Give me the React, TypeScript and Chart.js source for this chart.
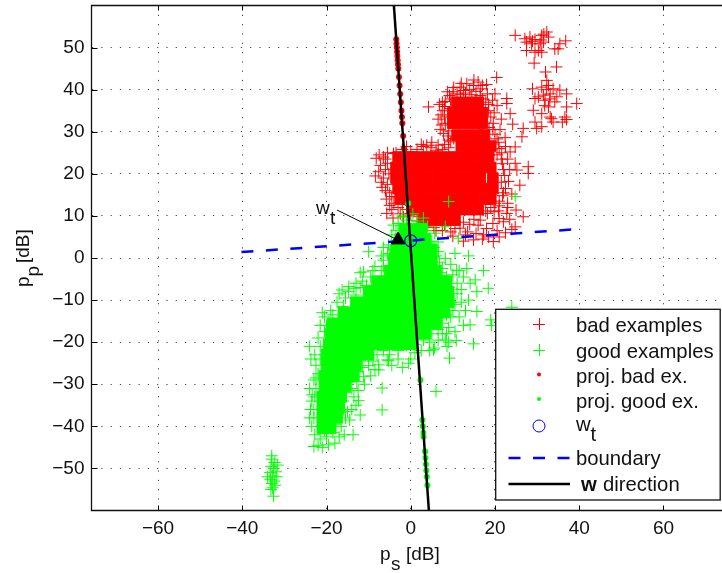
import React, { useEffect, useRef } from "react";
import { Chart, registerables } from "chart.js";

Chart.register(...registerables);

const FONT = '"Liberation Sans", Arial, sans-serif';

// Dense cores, read as rows: [y, x values]
const badCoreRows: [number, number[]][] = [
  [37, [11, 13.5, 16]],
  [34.5, [10, 12.5, 15, 17]],
  [32, [10, 12.5, 15, 17]],
  [29.2, [11, 13.5, 16, 17.5]],
  [26.6, [12, 14.5, 17, 19]],
  [24, [-3, -0.5, 2, 4.5, 7, 9.5, 12, 14.5, 17, 18.5]],
  [21.5, [-3.5, -1, 1.5, 4, 6.5, 9, 11.5, 14, 16.5, 19]],
  [19, [-3.5, -1, 1.5, 4, 6.5, 9, 11.5, 14, 16.5, 19.5]],
  [16.5, [-3, -0.5, 2, 4.5, 7, 9.5, 12, 14.5, 17, 19.5]],
  [14, [-2.5, 0, 2.5, 5, 7.5, 10, 12.5, 15, 17.5, 19]],
  [11.5, [1, 3.5, 6, 8.5, 11, 13.5, 16]],
  [9, [3, 5.5, 8, 10.5]],
];

const goodCoreRows: [number, number[]][] = [
  [7, [-1.5, 1, 2.5]],
  [4.5, [-2.5, 0, 2, 3.5]],
  [2, [-3.5, -1, 1.5, 4, 5]],
  [-0.5, [-4, -1.5, 1, 3.5, 5]],
  [-3, [-5, -2.5, 0, 2.5, 5, 6]],
  [-5.5, [-8, -5.5, -3, -0.5, 2, 4.5, 7, 8.5]],
  [-8, [-10, -7.5, -5, -2.5, 0, 2.5, 5, 7.5, 9]],
  [-10.5, [-13, -10.5, -8, -5.5, -3, -0.5, 2, 4.5, 7, 9]],
  [-13, [-16, -13.5, -11, -8.5, -6, -3.5, -1, 1.5, 4, 6.5, 8]],
  [-15.5, [-18.5, -16, -13.5, -11, -8.5, -6, -3.5, -1, 1.5, 4, 6]],
  [-18, [-19, -16.5, -14, -11.5, -9, -6.5, -4, -1.5, 1, 3.5]],
  [-20.5, [-19.5, -17, -14.5, -12, -9.5, -7, -4.5, -2, 0]],
  [-23, [-20, -17.5, -15, -12.5, -10]],
  [-25.5, [-20, -17.5, -15, -13]],
  [-28, [-20.5, -18, -15.5, -13.5]],
  [-30.5, [-20.5, -18, -15.5]],
  [-33, [-21, -18.5, -16.5]],
  [-35.5, [-21, -18.5, -17]],
  [-38, [-21, -19, -17.5]],
  [-40.5, [-21, -19]],
];

const badExamples: [number, number][] = [
  [24.8, 52.9], [27.1, 52.1], [28.3, 52.5], [29.5, 51.9], [27.5, 51.3], [28.7, 50.9], [31.1, 52.9], [32.3, 53.7],
  [32.7, 52.5], [31.5, 51.3], [30.7, 50.9], [30.3, 49.3], [31.1, 48.9], [29.5, 48.9], [27.5, 49.3], [35, 49.7],
  [35.4, 50.9], [36.8, 51.6], [34.2, 49.7], [29.3, 46.3], [34.6, 45.4], [31.6, 53.2], [30.9, 51.8], [28.9, 51.5],
  [32, 44.2], [32.3, 42.2], [32.7, 41], [28.9, 40.2], [31.1, 40.6], [33.8, 40.2], [35.4, 39.9], [30.3, 38.3],
  [31.5, 38.7], [33.1, 39], [34.7, 38.3], [37, 39], [39.4, 36.7], [29.5, 37.9], [31.9, 37.5], [34.2, 37.1],
  [32.7, 35.9], [37, 35.9], [29.1, 35.1], [31.1, 34.3], [33.1, 33.5], [36.6, 33.5], [29.5, 32.3], [33.8, 32.3],
  [37, 32.9], [31.1, 31.2], [29.9, 30.8], [36, 32.3], [33.4, 33.1], [32.2, 40], [33, 37.8], [31.8, 36.2],
  [4.2, 35.9], [6.8, 36.5], [20.4, 42.9], [18, 41.2], [20, 39], [22.8, 37.9], [22.8, 36.7], [23.6, 34.3],
  [24.2, 31.8], [26.7, 30.8], [26.4, 28.8], [24.8, 26.4], [23.6, 25.2], [24.8, 22.5], [27.9, 21.7], [8.7, 39.5],
  [11.7, 40.6], [14.9, 41], [13.3, 41.4], [10.2, 40.5], [7.4, 31.6], [7.8, 29.6], [9, 30.2], [8, 33.5],
  [7.6, 35], [8.2, 37.2], [9.2, 38.6], [12.5, 39.8], [16.5, 40.2], [18.2, 39], [19.4, 37.5], [20.5, 36.2],
  [19.8, 34.5], [21.5, 33], [19.6, 32], [21.2, 30.5], [20, 29.4], [22.4, 28.6], [20.8, 27.5], [22.5, 26.5],
  [21.6, 25], [23, 23.5], [21.8, 22.4], [23.5, 21], [22.3, 19.6], [25.2, 20.9], [27.9, 20.1], [25.9, 17.3],
  [23.2, 18.2], [22.5, 16.5], [24, 15.2], [21.8, 14.8], [23, 13], [21, 12.4], [19.8, 11], [18.2, 10.6],
  [26.7, 9.8], [22.8, 10.6], [24.8, 7.4], [22, 8.6], [23.5, 9.2], [25, 11.4], [21, 9.4], [19.6, 3.9],
  [17.3, 5.5], [14.9, 4.3], [11.7, 7.1], [16, 7.8], [13.5, 6.2], [18, 7], [19.5, 8.2], [15, 9.2],
  [12.5, 8.5], [9.5, 6.2], [7.5, 6.5], [5.5, 7.2], [3.2, 7.6], [1.5, 8.8], [-0.5, 10], [-1.7, 9.8],
  [-8.2, 23.7], [-8.4, 19.5], [-7.2, 22], [-7.6, 20.5], [-4.1, 24.8], [-5.7, 10.6], [-4.5, 14.6], [-6.5, 24],
  [-5.5, 22.5], [-6, 21], [-6.5, 19], [-5.5, 17.5], [-6, 16], [-5, 15.5], [-4, 13], [-5, 12.5],
  [-3, 12], [-2.5, 10.5], [-1, 11.5], [-3.5, 25], [-2, 25.8], [0, 25.2], [1.5, 25.8], [3, 26.5],
  [3.8, 26.8], [4.8, 26.2], [6, 25.6], [7.5, 25.8], [9, 26.2], [9.5, 27.6], [10.2, 28.4], [6.5, 24.8],
  [14.5, 38.8], [11, 39], [17, 37.8], [16.5, 38.6], [9.5, 35.5], [18.5, 35], [18.6, 31], [17.8, 28.5],
  [7.5, 37], [8, 36], [7.2, 34], [8.2, 32], [7, 30.5], [8.8, 29], [6.5, 33], [9, 28], [10, 39.5], [11.8, 38.8],
  [13, 39.2], [15.5, 39.6], [17.8, 37], [18.5, 36.5], [9.5, 37.8], [12, 41.5], [16, 41.8], [14, 40], [17, 41], [15, 42.3],
  [19, 33.5], [19.5, 30.5], [20.5, 28.3], [21, 26], [20.5, 24.5], [21.5, 23.5], [22, 21], [21.5, 18], [22, 15.5], [21, 13.5],
  [20, 13], [19, 12], [17.8, 11.2], [20.8, 11.2], [16.5, 9], [14, 8], [10.5, 7], [8, 8], [6, 6.5], [4, 8.5],
  [2, 9.8], [0, 10.5], [13, 5.5], [18.5, 5], [15.5, 5.8], [20.5, 6.5], [17, 4.5], [10, 5.2], [12.5, 4], [22.5, 6],
  [24, 6.8], [21, 5], [23, 12], [-5.5, 25], [-6, 23.5], [-5.2, 20], [-7, 18], [-5.8, 14], [-4.5, 11.5], [-3.2, 14.5],
  [-2, 13], [0, 12.5], [-7.5, 24.5], [-6.8, 16.8], [-4.2, 9.5], [5, 27.5], [2.5, 27], [6.5, 26.8], [8, 27], [-1, 26.5],
];

const goodExamples: [number, number][] = [
  [9, 13.4], [24.8, 14.6], [-1.9, 9.8], [8.2, 7.4], [5.7, 5.9], [11.3, 4.7], [-4.1, 7.8], [-5.3, 3.1], [3, 4.3],
  [-3, 8.2], [-1, 9], [1.5, 8.8], [3.5, 6.5], [5, 4], [-4.5, 5.5], [6.6, 1.5], [8.2, -0.1], [-6.5, 2.5], [6.5, 3.8],
  [-10, 1.5], [-11.2, -3.3], [-14.7, -6.8], [-13.5, -7.2], [-16.3, -7.6], [13.7, 0.5], [10.5, 1.1], [17.3, -3],
  [15.3, -5.2], [18.4, -7.2], [15.7, -8], [10.9, -2.9], [13.3, -2.5], [14.1, -6], [13.7, -10], [15.7, -12.7],
  [14.1, -15.9], [19, -14.7], [19.2, -16], [24, -11.7], [14.9, -20.4], [10.8, -19.6], [8.2, -19.5], [5.6, -21.4],
  [9.2, -23.8], [8.6, -21], [-0.5, -25], [-5.6, -24.2], [-7.6, -25.4], [-23.7, -24], [-23.4, -32.5], [-12.4, -33.9],
  [-12, -37.3], [-6.8, -30.9], [-6.8, -36.1], [-13.7, -42], [-19.5, -44.4], [-23, -44.8], [-7.6, -26.6], [-5.3, -24.4],
  [5.4, -21.8], [6, -31.7], [-12.8, -29.4], [-11.2, -28.2], [-7, -3], [-8.5, -2], [-6.5, -0.5], [-9.5, -4.5],
  [-11.5, -5.5], [-13, -8.8], [-15.5, -9.5], [-17.5, -10.5], [-16, -11.5], [-19, -12.5], [-20.5, -14], [-18.5, -13.5],
  [-21.5, -16], [-20.5, -17.5], [-22, -19], [-21.5, -21], [-22.8, -23], [-22.5, -25.5], [-22, -27.5], [-23, -29],
  [-22.5, -31], [-23.5, -34], [-23.8, -36], [-23, -38], [-23.5, -40], [-22.8, -42], [-21.5, -43], [-20, -42.5],
  [-18.5, -41.5], [-18, -39.5], [-17.5, -37.8], [-17, -35.5], [-16, -34], [-15, -36.5], [-14.5, -38.5], [-16.5, -40],
  [-17, -42.5], [-15.5, -32], [-14, -31], [-13.5, -33], [-14.8, -29.5], [-12.8, -27], [-11.5, -26], [-10, -25.5],
  [-9, -24.5], [-8, -23], [-6.5, -22], [-5, -23], [-3, -22], [-1, -20.8], [1, -20.5], [3, -19.5], [4.5, -20], [2.5, -22],
  [5, -18], [6.5, -17], [7.5, -15.5], [9, -16.5], [8.5, -13.5], [10, -12.5], [11.5, -14], [9.5, -10.5], [12, -10.5],
  [11, -8.5], [9, -7], [11, -6], [8.5, -4.5], [12.5, -4.5], [9.5, -1.5], [7.5, -2.5], [7, -6.5], [10.5, -17.5],
  [6, 0.5], [-7, 0.5], [-5.5, 1], [-18.5, -19.5], [-15.5, -24.5], [-12, -24.5],
  [3, 9.5], [-2, 10], [0.5, 10.5], [-3.5, 6.5], [4, 7.5], [-5, 1], [5.5, 2.5], [6.8, -1], [7, -3.5], [-6.5, -2],
  [-9, -3], [-10.5, -6.5], [-13, -6], [-12, -3.5], [8, -8.5], [9, -9], [8.5, -11.5], [10.5, -11], [9.5, -14], [7.5, -18],
  [8.5, -18], [6.5, -19.5], [6, -15], [4.5, -22], [1, -22.5], [0, -24], [-3, -24], [-2, -26], [7.5, -12], [10, -4],
  [11.5, -3], [12, -7.5], [13, -12.5], [12.5, -16], [9, -20], [-4.5, -25.5], [-8.5, -26.5], [-9.5, -28], [-11, -30], [-12.5, -31.5],
  [-13, -35], [-14, -36], [-15.5, -38], [-16, -36], [-17, -33], [-16, -30.5], [-14.5, -27], [-15.8, -42], [-18, -44], [-21, -45],
  [-22, -44.5], [-20.5, -41], [-24, -31], [-22.8, -33], [-24, -38], [-23, -36], [-22.5, -28.5], [-21.5, -24], [-24, -21], [-20, -16],
  [-21, -13], [-17, -8.5], [-14.8, -8], [-12, -7], [-9, -6.5],
  [-33, -47.8], [-32.3, -48.6], [-33.2, -49.5], [-32.6, -50], [-32, -50.8], [-33.4, -51], [-32.8, -51.8], [-31.8, -52],
  [-33.3, -52.6], [-32.4, -53], [-33, -53.6], [-32.2, -54], [-32.8, -54.6], [-33.2, -55], [-32.6, -56.6], [-33, -47], [-31.6, -49.2], [-34, -52],
];

const projBad: [number, number][] = [
  [-3.45, 52], [-3.38, 51], [-3.31, 50], [-3.24, 49], [-3.17, 48], [-3.1, 47], [-3.03, 46], [-2.96, 45], [-2.8, 43],
  [-2.65, 41], [-2.5, 39], [-2.35, 37], [-2.2, 35], [-2.1, 33.5], [-2, 32], [-1.8, 29], [-1.6, 26], [-1.3, 22], [-1, 18], [-0.6, 13],
];
const projGood: [number, number][] = [
  [-0.6, 13], [1.5, -17], [2.3, -29], [2.75, -38.5], [2.85, -40], [3, -41.5], [3.05, -42.5], [3.4, -46], [3.5, -47.5], [3.6, -49], [3.7, -50.5], [3.8, -52], [3.95, -54],
];
const wT: [number, number][] = [[0, 4.1]];
const boundaryLine: [number, number][] = [[-40.2, 1.4], [38.7, 6.8]];
const directionLine: [number, number][] = [[-4, 60], [4.3, -60]];
const arrowShaft: [number, number][] = [[-17.5, 11.4], [-2.5, 4]];
const arrowHead: [number, number][] = [[-3, 4.3]];
const labelWtAt: [number, number] = [-22.5, 10.5];

const xTickValues = [-60, -40, -20, 0, 20, 40, 60];
const yTickValues = [-50, -40, -30, -20, -10, 0, 10, 20, 30, 40, 50];

const legendLabels = ["bad examples", "good examples", "proj. bad ex.", "proj. good ex.", "w", "boundary", "direction"];

const toPts = (a: [number, number][]) => a.map(([x, y]) => ({ x, y }));
const rowsToPts = (rows: [number, number[]][]) => rows.flatMap(([y, xs]) => xs.map((x) => ({ x, y })));
const fmt = (v: number) => String(v).replace("-", "\u2212");

const decor = {
  id: "decor",
  afterDatasetsDraw(chart: any) {
    const { ctx, chartArea: a, scales } = chart;
    const sx = scales.x, sy = scales.y;
    ctx.save();
    ctx.strokeStyle = "#000";
    ctx.lineWidth = 1;
    ctx.beginPath();
    xTickValues.forEach((t) => {
      const p = Math.round(sx.getPixelForValue(t)) + 0.5;
      ctx.moveTo(p, a.top); ctx.lineTo(p, a.top + 5);
      ctx.moveTo(p, a.bottom); ctx.lineTo(p, a.bottom - 5);
    });
    yTickValues.forEach((t) => {
      const p = Math.round(sy.getPixelForValue(t)) + 0.5;
      ctx.moveTo(a.left, p); ctx.lineTo(a.left + 6, p);
    });
    ctx.stroke();
    ctx.lineWidth = 1.3;
    ctx.strokeStyle = "#111";
    ctx.beginPath();
    ctx.moveTo(a.right + 2, a.top); ctx.lineTo(a.left, a.top); ctx.lineTo(a.left, a.bottom); ctx.lineTo(a.right + 2, a.bottom);
    ctx.stroke();

    // annotation and axis titles
    ctx.fillStyle = "#111";
    ctx.textBaseline = "alphabetic";
    ctx.textAlign = "left";
    ctx.font = `19px ${FONT}`;
    const wx = sx.getPixelForValue(labelWtAt[0]), wy = sy.getPixelForValue(labelWtAt[1]);
    ctx.fillText("w", wx, wy);
    ctx.fillText("t", wx + 14, wy + 10);

    ctx.fillText("p", 380, 560);
    ctx.fillText("s", 391, 570);
    ctx.fillText("[dB]", 406, 560);
    ctx.save();
    ctx.translate(29, 287);
    ctx.rotate(-Math.PI / 2);
    ctx.fillText("p", 0, 0);
    ctx.fillText("p", 10.5, 9.5);
    ctx.fillText("[dB]", 24, 0);
    ctx.restore();
    ctx.restore();
  },
  afterDraw(chart: any) {
    const { ctx } = chart;
    ctx.save();
    ctx.fillStyle = "#fff";
    ctx.strokeStyle = "#111";
    ctx.lineWidth = 1.3;
    ctx.fillRect(495.7, 309.3, 224.5, 190.7);
    ctx.strokeRect(495.7, 309.3, 224.5, 190.7);
    const mx = 539, tx = 576;
    const rows = [325, 351, 376, 401, 427, 458, 484];
    ctx.textBaseline = "alphabetic";
    ctx.textAlign = "left";
    ctx.font = `20.3px ${FONT}`;
    ctx.fillStyle = "#111";
    [0, 1, 2, 3, 5].forEach((i) => ctx.fillText(legendLabels[i], tx, rows[i] + 7));
    ctx.fillText("w", tx, rows[4] + 4);
    ctx.fillText("t", tx + 14.5, rows[4] + 14);
    ctx.font = `bold 20.3px ${FONT}`;
    ctx.fillText("w", 581, rows[6] + 7);
    ctx.font = `20.3px ${FONT}`;
    ctx.fillText(legendLabels[6], 603, rows[6] + 7);

    const plus = (y: number, c: string) => {
      ctx.strokeStyle = c; ctx.lineWidth = 1;
      ctx.beginPath();
      ctx.moveTo(mx - 6, y + 0.5); ctx.lineTo(mx + 6, y + 0.5);
      ctx.moveTo(mx + 0.5, y - 6); ctx.lineTo(mx + 0.5, y + 6);
      ctx.stroke();
    };
    plus(rows[0] - 1, "#f00");
    plus(rows[1] - 1, "#0f0");
    const dot = (y: number, c: string) => {
      ctx.fillStyle = c; ctx.beginPath(); ctx.arc(mx, y, 2, 0, Math.PI * 2); ctx.fill();
    };
    dot(rows[2] - 1.5, "#f00");
    dot(rows[3] - 2, "#0f0");
    ctx.strokeStyle = "#00f"; ctx.lineWidth = 1;
    ctx.beginPath(); ctx.arc(mx, rows[4] - 1, 6, 0, Math.PI * 2); ctx.stroke();
    ctx.lineWidth = 2.5;
    ctx.setLineDash([12, 12.5]);
    ctx.beginPath(); ctx.moveTo(508.5, rows[5]); ctx.lineTo(570, rows[5]); ctx.stroke();
    ctx.setLineDash([]);
    ctx.strokeStyle = "#000";
    ctx.beginPath(); ctx.moveTo(508.5, rows[6]); ctx.lineTo(570, rows[6]); ctx.stroke();
    ctx.restore();
  },
};

export default function App() {
  const ref = useRef<HTMLCanvasElement>(null);
  useEffect(() => {
    const cross = (color: string) => ({
      pointStyle: "cross", pointRadius: 6, pointBorderColor: color, pointBorderWidth: 1, borderColor: color, backgroundColor: color,
    });
    const core = (color: string) => ({
      pointStyle: "rect", pointRadius: 7.5, pointBorderColor: color, pointBorderWidth: 1, pointBackgroundColor: color, borderColor: color,
    });
    const noPad = (s: any) => { s.paddingLeft = 0; s.paddingRight = 0; s.paddingTop = 0; s.paddingBottom = 0; };
    const chart = new Chart(ref.current!, {
      type: "scatter",
      data: {
        datasets: [
          { label: "bad examples (dense)", data: rowsToPts(badCoreRows), order: 11, ...core("#f00") },
          { label: legendLabels[0], data: toPts(badExamples), order: 10, ...cross("#f00") },
          { label: "good examples (dense)", data: rowsToPts(goodCoreRows), order: 9, ...core("#0f0") },
          { label: legendLabels[1], data: toPts(goodExamples), order: 8, ...cross("#0f0") },
          { label: legendLabels[2], data: toPts(projBad), order: 7, pointRadius: 3, pointBackgroundColor: "#f00", pointBorderWidth: 0, borderColor: "#f00" },
          { label: legendLabels[3], data: toPts(projGood), order: 6, pointRadius: 3, pointBackgroundColor: "#0f0", pointBorderWidth: 0, borderColor: "#0f0" },
          { label: legendLabels[5], data: toPts(boundaryLine), order: 5, showLine: true, pointRadius: 0, borderColor: "#00f", borderWidth: 2.5, borderDash: [12, 12.5] },
          { label: "w direction", data: toPts(directionLine), order: 4, showLine: true, pointRadius: 0, borderColor: "#000", borderWidth: 2.5 },
          { label: "arrow", data: toPts(arrowShaft), order: 3, showLine: true, pointRadius: 0, borderColor: "#000", borderWidth: 1 },
          { label: "arrow head", data: toPts(arrowHead), order: 2, pointStyle: "triangle", pointRadius: 8, pointBackgroundColor: "#000", pointBorderColor: "#000", pointBorderWidth: 1 },
          { label: "w_t", data: toPts(wT), order: 1, pointStyle: "circle", pointRadius: 6, pointBackgroundColor: "rgba(0,0,0,0)", pointBorderColor: "#00f", pointBorderWidth: 1.2, borderColor: "#00f" },
        ] as any,
      },
      plugins: [decor],
      options: {
        animation: false,
        responsive: false,
        layout: { autoPadding: false, padding: { top: 5.5, left: 0, right: 0, bottom: 0 } },
        plugins: { legend: { display: false }, tooltip: { enabled: false } },
        scales: {
          x: {
            type: "linear", min: -75.8, max: 73.9,
            afterFit: (s: any) => { s.height = 62.5; noPad(s); },
            afterBuildTicks: (s: any) => { s.ticks = xTickValues.map((value) => ({ value })); },
            grid: { color: "#444", tickLength: 0, drawTicks: false },
            border: { display: false, dash: [1.2, 8.1] },
            ticks: { color: "#111", font: { family: FONT, size: 19 }, padding: 7, maxRotation: 0, autoSkip: false, callback: (v: any) => fmt(v) },
          },
          y: {
            type: "linear", min: -60, max: 60,
            afterFit: (s: any) => { s.width = 91.5; noPad(s); },
            afterBuildTicks: (s: any) => { s.ticks = yTickValues.map((value) => ({ value })); },
            grid: { color: "#444", tickLength: 0, drawTicks: false },
            border: { display: false, dash: [1.2, 8.1] },
            ticks: { color: "#111", font: { family: FONT, size: 19 }, padding: 7, autoSkip: false, callback: (v: any) => fmt(v) },
          },
        },
      } as any,
    });
    return () => chart.destroy();
  }, []);
  return (
    <div style={{ position: "absolute", left: 0, top: 0, width: 722, height: 573, background: "#fff" }}>
      <canvas ref={ref} width={722} height={573} style={{ display: "block" }} />
    </div>
  );
}
